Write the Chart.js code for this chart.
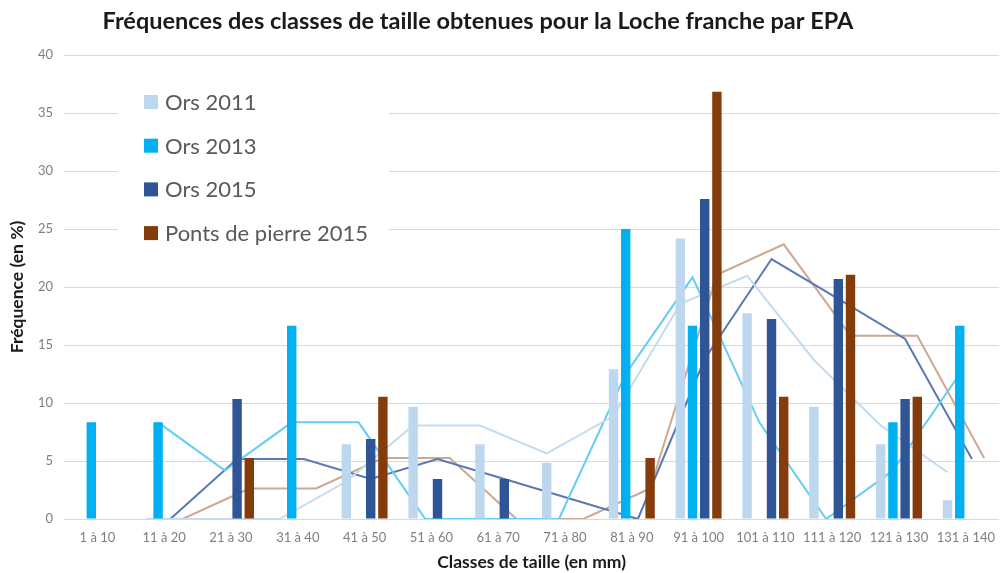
<!DOCTYPE html>
<html><head><meta charset="utf-8">
<script src="https://cdn.jsdelivr.net/npm/chart.js@4"></script>
<style>html,body{margin:0;padding:0;overflow:hidden;background:#fff}#wrap{width:1006px;height:573px;position:relative}</style>
</head><body><div id="wrap"><canvas id="c" width="1006" height="573"></canvas></div>
<script>
const categories = ['1 à 10','11 à 20','21 à 30','31 à 40','41 à 50','51 à 60','61 à 70','71 à 80','81 à 90','91 à 100','101 à 110','111 à 120','121 à 130','131 à 140'];
const seriesNames = ['Ors 2011','Ors 2013','Ors 2015','Ponts de pierre 2015'];
const ors2011   = [0,0,0,0,6.45,9.68,6.45,4.84,12.90,24.19,17.74,9.68,6.45,1.61];
const ors2013   = [8.33,8.33,0,16.67,0,0,0,0,25.00,16.67,0,0,8.33,16.67];
const ors2015   = [0,0,10.34,0,6.90,3.45,3.45,0,0,27.59,17.24,20.69,10.34,0];
const ponts2015 = [0,0,5.26,0,10.53,0,0,0,5.26,36.84,10.53,21.05,10.53,0];
// trend lines (moving average curves)
const trend2011  = [null,0,0,0,3.23,8.06,8.06,5.65,8.87,18.55,20.97,13.71,8.06,4.03];
const trend2013  = [null,8.33,4.17,8.33,8.33,0,0,0,12.50,20.83,8.33,0,4.17,12.50];
const trend2015  = [null,0,5.17,5.17,3.45,5.17,3.45,1.72,0,13.79,22.41,18.97,15.52,5.17];
const trendPonts = [null,0,2.63,2.63,5.26,5.26,0,0,2.63,21.05,23.68,15.79,15.79,5.26];
const yTicks = [0,5,10,15,20,25,30,35,40];

const barColors  = ['#BDD7EE','#00B0F0','#2F5597','#843C0C'];
const lineColors = ['#C3DBF0','#62CDF5','#5A78B4','#CBA892'];
const barSeries = [ors2011, ors2013, ors2015, ponts2015];
const trendSeries = [trend2011, trend2013, trend2015, trendPonts];
const GROUP_FRAC = 0.73;      // share of a category taken by the group of 4 bars
const BAR_THICK = 9.4;        // px

const slotOffset = k => (k - 1.5) * GROUP_FRAC / 4;
const datasets = [];
barSeries.forEach((d,k)=>{
  datasets.push({type:'bar', label:seriesNames[k], data:d.map((v,i)=>({x:i+slotOffset(k), y:v})),
    backgroundColor:barColors[k], grouped:false, barThickness:BAR_THICK, inflateAmount:0, borderWidth:0,
    xAxisID:'xl', yAxisID:'y', order:0});
});
trendSeries.forEach((d,k)=>{
  datasets.push({type:'line', label:'trend '+seriesNames[k],
    data:d.map((v,i)=>({x:i+slotOffset(k), y:v})), borderColor:lineColors[k], borderWidth:2,
    pointRadius:0, tension:0, fill:false, xAxisID:'xl', yAxisID:'y', order:1});
});

const legendPlugin = {
  id:'legendBox',
  beforeDatasetsDraw(chart){
    const ctx = chart.ctx;
    ctx.save();
    ctx.fillStyle='#ffffff';
    ctx.fillRect(118,78,271,180);
    ctx.font='22px Lato';
    ctx.textBaseline='middle';
    ctx.textAlign='left';
    seriesNames.forEach((n,k)=>{
      const y = 102 + k*43.7;
      ctx.fillStyle=barColors[k];
      ctx.fillRect(144,y-7,14,14);
      ctx.fillStyle='#595959';
      ctx.fillText(n,165,y+1);
    });
    ctx.restore();
  }
};
const titlePlugin = {
  id:'titleText',
  afterDraw(chart){
    const ctx = chart.ctx;
    ctx.save();
    ctx.font='bold 23.5px Lato';
    ctx.fillStyle='#1a1a1a';
    ctx.textAlign='center';
    ctx.textBaseline='middle';
    ctx.fillText('Fréquences des classes de taille obtenues pour la Loche franche par EPA',478,21);
    ctx.restore();
  }
};

new Chart(document.getElementById('c'),{
  type:'bar',
  data:{labels:categories, datasets},
  options:{
    responsive:false, animation:false,
    layout:{padding:{top:55,left:0,right:0,bottom:0}},
    plugins:{legend:{display:false}, title:{display:false}, tooltip:{enabled:false}},
    scales:{
      x:{type:'category', offset:true, labels:categories,
        grid:{display:false, drawTicks:false}, border:{display:false},
        ticks:{color:'#7F7F7F', font:{family:'Lato', size:13}, padding:11, maxRotation:0, autoSkip:false},
        title:{display:true, text:'Classes de taille (en mm)', color:'#1a1a1a', font:{family:'Lato', size:17.5, weight:'bold'}, padding:{top:0,bottom:0}},
        afterFit(s){ s.height = 54; }
      },
      xl:{type:'linear', display:false, offset:false, grid:{offset:false}, min:-0.5, max:13.5},
      y:{type:'linear', min:0, max:40,
        afterBuildTicks(s){ s.ticks = yTicks.map(v=>({value:v})); },
        grid:{color:'#D9D9D9', lineWidth:1, drawTicks:false}, border:{display:false},
        ticks:{color:'#7F7F7F', font:{family:'Lato', size:13}, padding:11},
        title:{display:true, text:'Fréquence (en %)', color:'#1a1a1a', font:{family:'Lato', size:17.5, weight:'bold'}, padding:{top:6.5,bottom:0}},
        afterFit(s){ s.width = 64; }
      }
    }
  },
  plugins:[legendPlugin, titlePlugin]
});
</script></body></html>
